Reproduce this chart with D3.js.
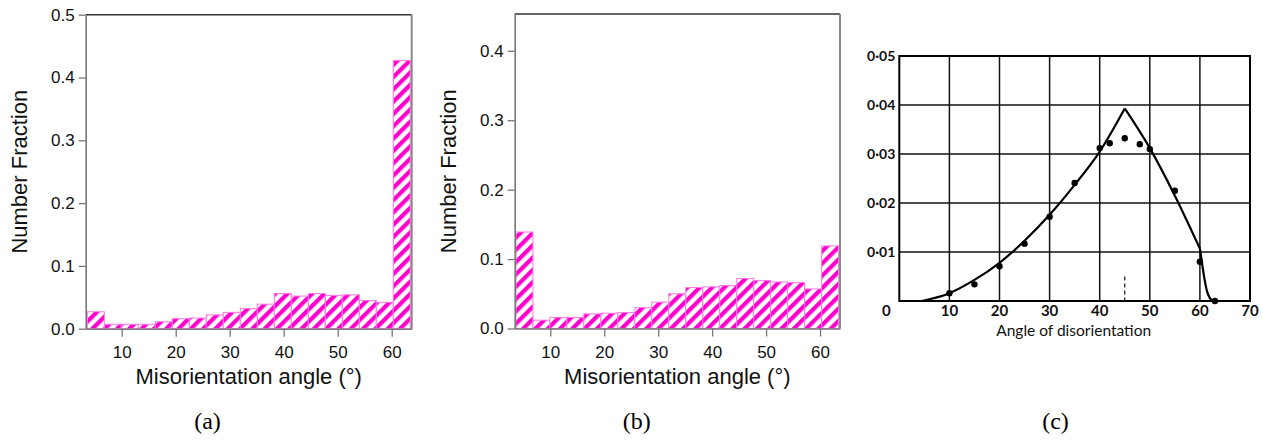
<!DOCTYPE html>
<html><head><meta charset="utf-8">
<script src="https://cdn.jsdelivr.net/npm/d3@7"></script>
<style>body{margin:0;background:#fff;} svg{display:block}</style>
</head><body>
<svg id="chart" width="1263" height="441"></svg>
<script>
// ---------- data ----------
const binStart = 3.63;
const binWidth = 3.148;
const fractionA = [0.027,0.007,0.007,0.007,0.011,0.016,0.017,0.022,0.026,0.032,0.039,0.056,0.052,0.056,0.053,0.054,0.045,0.042,0.427];
const fractionB = [0.139,0.012,0.016,0.016,0.021,0.022,0.023,0.030,0.038,0.050,0.059,0.060,0.062,0.072,0.069,0.067,0.066,0.057,0.119];
const histTicksX = [10,20,30,40,50,60];
const yTicksA = [0,0.1,0.2,0.3,0.4,0.5];
const yTicksB = [0,0.1,0.2,0.3,0.4];

const curveAnglesL = [4.5,10,15,20,25,30,35,40,45];
const curveValuesL = [0,0.0016,0.0043,0.0078,0.0123,0.0176,0.0237,0.0305,0.0393];
const curveAnglesM = [45,50,55,60];
const curveValuesM = [0.0393,0.0312,0.0215,0.0107];
const curveAnglesT = [60,60.5,61,61.5,62,62.5,63];
const curveValuesT = [0.0107,0.0072,0.0040,0.0017,0.0006,0.0001,0];
const dotAngles = [10,15,20,25,30,35,40,42,45,48,50,55,60,63];
const dotValues = [0.0016,0.0034,0.0071,0.0117,0.0172,0.0241,0.0312,0.0322,0.0332,0.032,0.031,0.0225,0.008,0];
const cTicksX = [10,20,30,40,50,60,70];
const cTicksY = [0.01,0.02,0.03,0.04,0.05];
const cTickLabelsY = ["0·01","0·02","0·03","0·04","0·05"];
const peakMarkAngle = 45;
const peakMarkValue = 0.005;

const xLabelHist = "Misorientation angle (°)";
const yLabelHist = "Number Fraction";
const xLabelC = "Angle of disorientation";
const captions = ["(a)","(b)","(c)"];

// ---------- drawing ----------
const svg = d3.select("#chart");
const MAG = "#ff00cc";
const defs = svg.append("defs");
const pat = defs.append("pattern").attr("id","hatch")
  .attr("patternUnits","userSpaceOnUse").attr("width",8.7).attr("height",8.7)
  .attr("patternTransform","rotate(45)");
pat.append("rect").attr("width",8.7).attr("height",8.7).attr("fill","#fff");
pat.append("rect").attr("width",4.2).attr("height",8.7).attr("fill",MAG);

const SANS = "'Liberation Sans', Arial, sans-serif";

function histPanel(cfg, values, yTicks, caption) {
  const g = svg.append("g");
  const x = d3.scaleLinear().domain(cfg.xDomain).range([cfg.left, cfg.right]);
  const y = d3.scaleLinear().domain(cfg.yDomain).range([cfg.bottom, cfg.top]);

  g.selectAll("rect.bar").data(values).join("rect").attr("class","bar")
    .attr("x",(d,i)=>x(binStart+i*binWidth))
    .attr("width",(d,i)=>x(binStart+(i+1)*binWidth)-x(binStart+i*binWidth))
    .attr("y",d=>y(d)).attr("height",d=>y(0)-y(d))
    .attr("fill","url(#hatch)").attr("stroke","#ff77e4").attr("stroke-width",1);

  g.append("line").attr("x1",cfg.left).attr("x2",cfg.right).attr("y1",cfg.top).attr("y2",cfg.top)
    .attr("stroke","#333").attr("stroke-width",1.5);
  g.append("line").attr("x1",cfg.right).attr("x2",cfg.right).attr("y1",cfg.top).attr("y2",cfg.bottom)
    .attr("stroke","#888").attr("stroke-width",2);

  const ax = g.append("g").attr("transform",`translate(${cfg.left},0)`)
    .call(d3.axisLeft(y).tickValues(yTicks).tickFormat(d3.format(".1f")).tickSize(7).tickSizeOuter(0).tickPadding(4));
  const bx = g.append("g").attr("transform",`translate(0,${cfg.bottom})`)
    .call(d3.axisBottom(x).tickValues(histTicksX).tickFormat(d3.format("d")).tickSize(8).tickSizeOuter(0).tickPadding(9));
  [ax,bx].forEach(a=>{
    a.select(".domain").attr("stroke","#777").attr("stroke-width",1.6);
    a.selectAll(".tick line").attr("stroke","#777").attr("stroke-width",1.3);
    a.selectAll(".tick text").attr("fill","#111").style("font-family",SANS).style("font-size","17px");
  });

  g.append("text").attr("x",(cfg.left+cfg.right)/2).attr("y",384)
    .attr("text-anchor","middle").style("font-family",SANS).style("font-size","22px").attr("fill","#111")
    .text(xLabelHist);
  g.append("text").attr("transform",`translate(${cfg.yLabelX},${(cfg.top+cfg.bottom)/2}) rotate(-90)`)
    .attr("text-anchor","middle").style("font-family",SANS).style("font-size","22px").attr("fill","#111")
    .text(yLabelHist);
  g.append("text").attr("x",cfg.captionX).attr("y",429).attr("text-anchor","middle")
    .style("font-family","'Liberation Serif','Times New Roman',serif").style("font-size","24px").attr("fill","#000")
    .text(caption);
}

histPanel({left:85.7,right:411.7,top:14.7,bottom:328.7,xDomain:[3.33,63.7],yDomain:[0,0.5],yLabelX:27,captionX:207.5}, fractionA, yTicksA, captions[0]);
histPanel({left:514.7,right:840,top:14,bottom:328.5,xDomain:[3.4,63.7],yDomain:[0,0.453],yLabelX:456,captionX:636.7}, fractionB, yTicksB, captions[1]);

// ---------- panel (c) ----------
(function(){
  const C = {left:899.3,right:1250,top:56,bottom:301};
  const g = svg.append("g");
  const x = d3.scaleLinear().domain([0,70]).range([C.left,C.right]);
  const y = d3.scaleLinear().domain([0,0.05]).range([C.bottom,C.top]);
  const FONT = "Lato, 'Open Sans', sans-serif";

  g.selectAll("line.vg").data(cTicksX.slice(0,-1)).join("line").attr("class","vg")
    .attr("x1",d=>x(d)).attr("x2",d=>x(d)).attr("y1",C.top).attr("y2",C.bottom)
    .attr("stroke","#111").attr("stroke-width",1.5);
  g.selectAll("line.hg").data(cTicksY.slice(0,-1)).join("line").attr("class","hg")
    .attr("x1",C.left).attr("x2",C.right).attr("y1",d=>y(d)).attr("y2",d=>y(d))
    .attr("stroke","#111").attr("stroke-width",1.5);
  g.append("rect").attr("x",C.left).attr("y",C.top).attr("width",C.right-C.left).attr("height",C.bottom-C.top)
    .attr("fill","none").attr("stroke","#000").attr("stroke-width",2);

  g.append("line").attr("x1",x(peakMarkAngle)).attr("x2",x(peakMarkAngle))
    .attr("y1",y(peakMarkValue)).attr("y2",y(0)).attr("stroke","#111").attr("stroke-width",1.2)
    .attr("stroke-dasharray","4,3");

  const line = d3.line().x(d=>x(d[0])).y(d=>y(d[1])).curve(d3.curveMonotoneX);
  [[curveAnglesL,curveValuesL],[curveAnglesM,curveValuesM],[curveAnglesT,curveValuesT]].forEach(([a,v])=>{
    g.append("path").attr("d",line(a.map((d,i)=>[d,v[i]])))
      .attr("fill","none").attr("stroke","#000").attr("stroke-width",2.2).attr("stroke-linejoin","round");
  });
  g.selectAll("circle.dot").data(dotAngles).join("circle").attr("class","dot")
    .attr("cx",d=>x(d)).attr("cy",(d,i)=>y(dotValues[i])).attr("r",3.2).attr("fill","#000");

  g.selectAll("text.yl").data(cTicksY).join("text").attr("class","yl")
    .attr("x",C.left-4).attr("y",d=>y(d)).attr("dy","0.35em").attr("text-anchor","end")
    .style("font-family",FONT).style("font-size","14px").style("font-weight","bold").attr("fill","#111")
    .text((d,i)=>cTickLabelsY[i]);
  g.selectAll("text.xl").data(cTicksX).join("text").attr("class","xl")
    .attr("x",d=>x(d)).attr("y",315.5).attr("text-anchor","middle")
    .style("font-family",FONT).style("font-size","15px").style("font-weight","bold").attr("fill","#111")
    .text(d=>d);
  g.append("text").attr("x",x(0)-13).attr("y",315.5).attr("text-anchor","middle")
    .style("font-family",FONT).style("font-size","15px").style("font-weight","bold").attr("fill","#111").text("0");
  g.append("text").attr("x",(C.left+C.right)/2-1).attr("y",336).attr("text-anchor","middle")
    .style("font-family",FONT).style("font-size","15.5px").attr("fill","#111").text(xLabelC);
  g.append("text").attr("x",1055.5).attr("y",429).attr("text-anchor","middle")
    .style("font-family","'Liberation Serif','Times New Roman',serif").style("font-size","24px").attr("fill","#000")
    .text(captions[2]);
})();
</script>
</body></html>
